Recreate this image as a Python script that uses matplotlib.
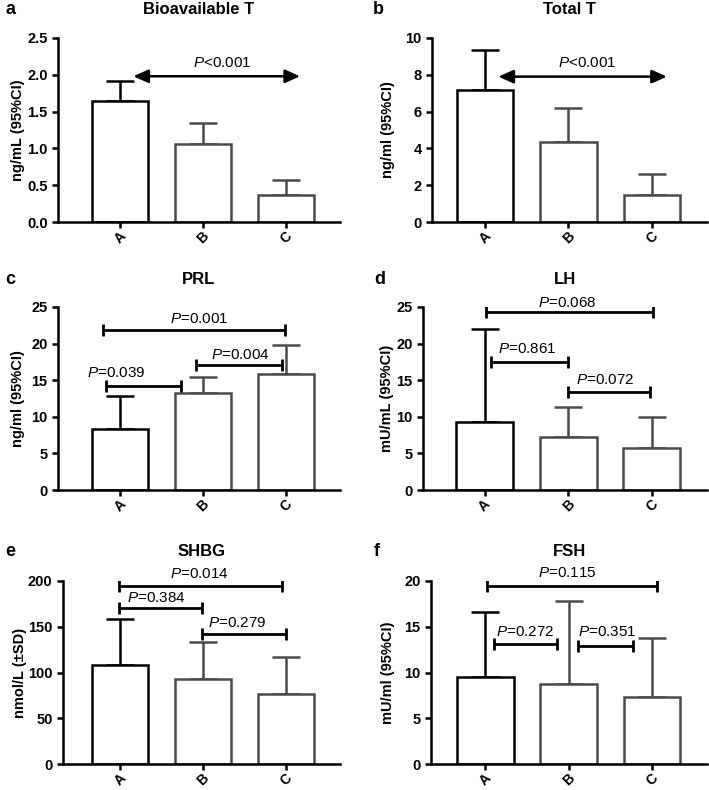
import matplotlib
matplotlib.use('Agg')
import matplotlib.pyplot as plt
import numpy as np

plt.rcParams['font.family'] = ['Liberation Sans', 'DejaVu Sans']
plt.rcParams['mathtext.fontset'] = 'custom'
plt.rcParams['mathtext.it'] = 'Liberation Sans:italic'
plt.rcParams['mathtext.rm'] = 'Liberation Sans'

groups = ['A', 'B', 'C']

# panel data: means and upper error limits
bioT_mean = [1.65, 1.06, 0.37]
bioT_up = [1.92, 1.35, 0.57]
totT_mean = [7.15, 4.35, 1.45]
totT_up = [9.35, 6.2, 2.6]
prl_mean = [8.3, 13.3, 15.9]
prl_up = [12.8, 15.4, 19.8]
lh_mean = [9.3, 7.3, 5.8]
lh_up = [22.0, 11.4, 10.0]
shbg_mean = [108, 93, 77]
shbg_up = [159, 133.5, 117]
fsh_mean = [9.5, 8.75, 7.35]
fsh_up = [16.6, 17.85, 13.8]

titles = ['Bioavailable T', 'Total T', 'PRL', 'LH', 'SHBG', 'FSH']
letters = ['a', 'b', 'c', 'd', 'e', 'f']
ylabels = ['ng/mL (95%CI)', 'ng/ml (95%CI)', 'ng/ml (95%CI)',
           'mU/mL (95%CI)', 'nmol/L (\u00b1SD)', 'mU/ml (95%CI)']
ymax = [2.5, 10, 25, 25, 200, 20]
ystep = [0.5, 2, 5, 5, 50, 5]
yfmt = ['%.1f', '%d', '%d', '%d', '%d', '%d']

# p-value labels
p_a = '$\\mathit{P}$<0.001'
p_b = '$\\mathit{P}$<0.001'
p_c = ['$\\mathit{P}$=0.039', '$\\mathit{P}$=0.004', '$\\mathit{P}$=0.001']
p_d = ['$\\mathit{P}$=0.861', '$\\mathit{P}$=0.072', '$\\mathit{P}$=0.068']
p_e = ['$\\mathit{P}$=0.384', '$\\mathit{P}$=0.279', '$\\mathit{P}$=0.014']
p_f = ['$\\mathit{P}$=0.272', '$\\mathit{P}$=0.351', '$\\mathit{P}$=0.115']

means = [bioT_mean, totT_mean, prl_mean, lh_mean, shbg_mean, fsh_mean]
ups = [bioT_up, totT_up, prl_up, lh_up, shbg_up, fsh_up]

# layout (pixels): left, top, right, bottom
W, H = 709, 790
boxes = [(58, 38, 340, 222), (432, 38, 707, 222),
         (58, 307, 340, 490), (423, 307, 707, 490),
         (63, 581, 340, 764), (431, 581, 707, 764)]
xlims = [(-0.747, 2.65), (-0.635, 2.66), (-0.747, 2.65),
         (-0.74, 2.66), (-0.69, 2.65), (-0.65, 2.66)]
title_y = [9, 9, 280, 280, 552, 552]
ylab_x = [18, 388, 18, 387, 20, 388]
letter_x = [10, 378, 10, 380, 10, 377]

edge = ['black', '#4a4a4a', '#4a4a4a']
LW = 1.8

fig = plt.figure(figsize=(W / 100, H / 100), dpi=100)
axes = []
for k in range(6):
    l, t, r, b = boxes[k]
    ax = fig.add_axes([l / W, 1 - b / H, (r - l) / W, (b - t) / H])
    axes.append(ax)
    x = np.arange(3)
    m = np.array(means[k])
    u = np.array(ups[k])
    ax.bar(x, m, width=0.68, color='white', edgecolor=edge, linewidth=LW, zorder=2)
    for i in range(3):
        ax.errorbar(x[i], m[i], yerr=[[0], [u[i] - m[i]]], fmt='none',
                    ecolor=edge[i], elinewidth=LW, capsize=10, capthick=LW, zorder=1)
    ax.set_xlim(*xlims[k])
    ax.set_ylim(0, ymax[k])
    ticks = np.arange(0, ymax[k] + ystep[k] / 2, ystep[k])
    ax.set_yticks(ticks)
    ax.set_yticklabels([yfmt[k] % v for v in ticks], fontweight='bold', fontsize=10.5)
    ax.set_xticks(x)
    ax.set_xticklabels(groups, rotation=45, fontweight='bold', fontsize=10)
    for s in ['top', 'right']:
        ax.spines[s].set_visible(False)
    for s in ['left', 'bottom']:
        ax.spines[s].set_linewidth(LW)
    ax.tick_params(width=LW, length=4)
    ax.tick_params(axis='x', pad=1)
    cx = (l + r) / 2
    fig.text(cx / W, 1 - title_y[k] / H, titles[k], ha='center', va='center',
             fontweight='bold', fontsize=12)
    fig.text(letter_x[k] / W, 1 - title_y[k] / H, letters[k], ha='center', va='center',
             fontweight='bold', fontsize=13)
    fig.text(ylab_x[k] / W, 1 - (t + b) / 2 / H, ylabels[k], rotation=90,
             ha='center', va='center', fontweight='bold', fontsize=10.5)

def arrow(ax, x0, x1, y, txt, tx, ty):
    ax.annotate('', xy=(x1, y), xytext=(x0, y),
                arrowprops=dict(arrowstyle='<|-|>,head_length=0.9,head_width=0.4',
                                color='black', lw=LW, mutation_scale=10,
                                shrinkA=0, shrinkB=0))
    ax.text(tx, ty, txt, ha='center', va='center', fontsize=11)

def bracket(ax, x0, x1, y, txt, tx, ty):
    ax.plot([x0, x1], [y, y], color='black', lw=2.0, marker='|', ms=8, mew=2.0,
            solid_capstyle='butt', zorder=3)
    ax.text(tx, ty, txt, ha='center', va='center', fontsize=11)

arrow(axes[0], 0.16, 2.17, 1.98, p_a, 1.23, 2.16)
arrow(axes[1], 0.16, 2.18, 7.9, p_b, 1.23, 8.64)

bracket(axes[2], -0.17, 0.73, 14.2, p_c[0], -0.04, 16.0)
bracket(axes[2], 0.92, 1.95, 17.1, p_c[1], 1.45, 18.4)
bracket(axes[2], -0.2, 1.99, 21.8, p_c[2], 0.96, 23.3)

bracket(axes[3], 0.08, 0.99, 17.5, p_d[0], 0.51, 19.2)
bracket(axes[3], 0.99, 1.98, 13.4, p_d[1], 1.44, 15.0)
bracket(axes[3], 0.02, 2.01, 24.3, p_d[2], 0.99, 25.5)

bracket(axes[4], -0.02, 0.99, 170, p_e[0], 0.43, 181)
bracket(axes[4], 0.99, 2.0, 142.6, p_e[1], 1.41, 154.6)
bracket(axes[4], -0.02, 1.95, 194, p_e[2], 0.96, 208)

bracket(axes[5], 0.11, 0.86, 13.1, p_f[0], 0.48, 14.4)
bracket(axes[5], 1.11, 1.77, 12.85, p_f[1], 1.46, 14.4)
bracket(axes[5], 0.02, 2.06, 19.5, p_f[2], 0.99, 20.9)

for ax in axes:
    for t in ax.texts:
        t.set_clip_on(False)

fig.savefig('out.png', dpi=100)
